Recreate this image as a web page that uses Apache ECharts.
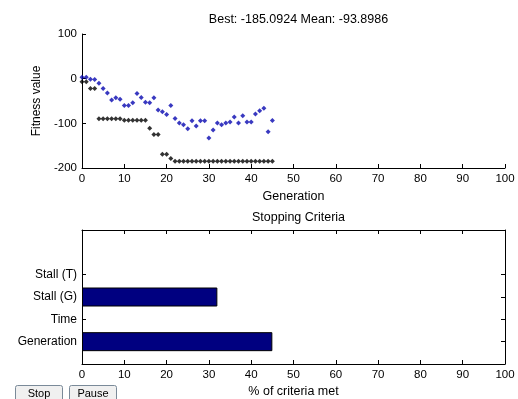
<!DOCTYPE html>
<html><head><meta charset="utf-8">
<script src="https://cdn.jsdelivr.net/npm/echarts@6/dist/echarts.min.js"></script>
<style>html,body{margin:0;padding:0;background:#fff}#c{width:518px;height:399px}</style>
</head><body><div id="c"></div>
<script>
const generations = [0,1,2,3,4,5,6,7,8,9,10,11,12,13,14,15,16,17,18,19,20,21,22,23,24,25,26,27,28,29,30,31,32,33,34,35,36,37,38,39,40,41,42,43,44,45];
const bestValues = [-7,-7,-22,-22,-90,-90,-90,-90,-90,-90,-93,-93,-93,-93,-93,-93,-111,-125,-125,-169,-169,-179,-185.09,-185.09,-185.09,-185.09,-185.09,-185.09,-185.09,-185.09,-185.09,-185.09,-185.09,-185.09,-185.09,-185.09,-185.09,-185.09,-185.09,-185.09,-185.09,-185.09,-185.09,-185.09,-185.09,-185.09];
const meanValues = [3,3,-1.5,-2,-10,-22,-32,-48,-43,-46,-60,-60,-54,-33,-42,-53,-54,-43,-70,-74,-80,-60,-89,-99,-103,-112,-94,-106,-94,-94,-133,-115,-99,-103,-99,-97,-86,-99,-83,-97,-97,-79,-72,-66,-119,-93.9];
const topXTicks = [0,10,20,30,40,50,60,70,80,90,100];
const topYTicks = [-200,-100,0,100];
const criteria = ['', 'Generation', 'Time', 'Stall (G)', 'Stall (T)', '', ''];
const criteriaMet = [null, 45, 0, 32, 0, null, null];
const titleText = 'Best: -185.0924 Mean: -93.8986';

const FONT = 'Liberation Sans, Arial, sans-serif';
const num = {color:'#000', fontFamily: FONT, fontSize: 11.5};
const txt = {color:'#000', fontFamily: FONT, fontSize: 12.5};
const chart = echarts.init(document.getElementById('c'), null, {renderer:'canvas'});
const lineStyle = {color:'#000', width:1};
const showCat = (i) => i >= 1 && i <= 4;

chart.setOption({
  backgroundColor: '#fff',
  animation: false,
  title: [
    {text: titleText, left: 293.5, textAlign: 'center', top: 8, textStyle: Object.assign({fontWeight:'normal'}, txt)},
    {text: 'Stopping Criteria', left: 293.5, textAlign: 'center', top: 206, textStyle: Object.assign({fontWeight:'normal'}, txt)}
  ],
  grid: [
    {left: 82, right: 13, top: 34, height: 134},
    {left: 82, right: 13, top: 230, height: 134}
  ],
  xAxis: [
    {gridIndex:0, type:'value', min: topXTicks[0], max: topXTicks[topXTicks.length-1], interval: 10,
     name:'Generation', nameLocation:'middle', nameGap: 22, nameTextStyle: txt,
     axisLine:{show:true, onZero:false, lineStyle}, axisTick:{show:true, inside:true, length:4, lineStyle},
     axisLabel: Object.assign({margin: 5}, num), splitLine:{show:false}},
    {gridIndex:1, type:'value', min:0, max:100, interval:10,
     name:'% of criteria met', nameLocation:'middle', nameGap: 21, nameTextStyle: txt,
     axisLine:{show:true, onZero:false, lineStyle}, axisTick:{show:true, inside:true, length:4, lineStyle},
     axisLabel: Object.assign({margin: 5}, num), splitLine:{show:false}},
    {gridIndex:1, type:'value', min:0, max:100, interval:10, position:'top',
     axisLine:{show:true, onZero:false, lineStyle}, axisTick:{show:true, inside:true, length:4, lineStyle},
     axisLabel:{show:false}, splitLine:{show:false}}
  ],
  yAxis: [
    {gridIndex:0, type:'value', min: topYTicks[0], max: topYTicks[topYTicks.length-1], interval: 100,
     name:'Fitness value', nameLocation:'middle', nameGap: 37, nameRotate: 90, nameTextStyle: Object.assign({}, txt, {fontSize:12}),
     axisLine:{show:true, onZero:false, lineStyle}, axisTick:{show:true, inside:true, length:4, lineStyle},
     axisLabel: Object.assign({margin: 5}, num), splitLine:{show:false}},
    {gridIndex:1, type:'category', data: criteria, boundaryGap:false,
     axisLine:{show:true, onZero:false, lineStyle}, axisTick:{show:true, inside:true, length:4, interval: showCat, lineStyle},
     axisLabel: Object.assign({margin: 5, interval: showCat}, txt, {fontSize: 12}), splitLine:{show:false}},
    {gridIndex:1, type:'category', data: criteria, boundaryGap:false, position:'right',
     axisLine:{show:true, onZero:false, lineStyle}, axisTick:{show:true, inside:true, length:4, interval: showCat, lineStyle},
     axisLabel:{show:false}, splitLine:{show:false}}
  ],
  series: [
    {type:'scatter', xAxisIndex:0, yAxisIndex:0, symbol:'diamond', symbolSize:5,
     itemStyle:{color:'#000'}, data: generations.map((g,i)=>[g,bestValues[i]])},
    {type:'scatter', xAxisIndex:0, yAxisIndex:0, symbol:'diamond', symbolSize:5,
     itemStyle:{color:'#0808b0'}, data: generations.map((g,i)=>[g,meanValues[i]])},
    {type:'bar', xAxisIndex:1, yAxisIndex:1, barWidth: 19,
     itemStyle:{color:'#000080', borderColor:'#000', borderWidth:1},
     data: criteriaMet.map(v => (v ? v : '-'))}
  ],
  graphic: [
    {type:'group', left: 15, top: 385, children: [
      {type:'rect', shape:{x:0,y:0,width:47,height:18,r:2}, style:{fill:'#f0f0f0', stroke:'#7a8a99', lineWidth:1}},
      {type:'text', style:{x:23.5, y:8, text:'Stop', align:'center', verticalAlign:'middle', fill:'#000', font:'11px '+FONT}}
    ]},
    {type:'group', left: 69, top: 385, children: [
      {type:'rect', shape:{x:0,y:0,width:47,height:18,r:2}, style:{fill:'#f0f0f0', stroke:'#7a8a99', lineWidth:1}},
      {type:'text', style:{x:23.5, y:8, text:'Pause', align:'center', verticalAlign:'middle', fill:'#000', font:'11px '+FONT}}
    ]}
  ]
});
</script></body></html>
